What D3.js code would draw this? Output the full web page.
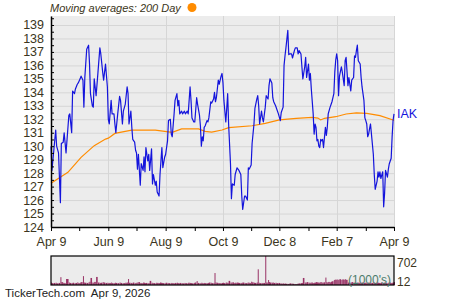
<!DOCTYPE html>
<html>
<head>
<meta charset="utf-8">
<script src="https://cdn.jsdelivr.net/npm/d3@7"></script>
<style>
  body { margin: 0; background: #fff; }
  svg { display: block; font-family: "Liberation Sans", Arial, sans-serif; }
</style>
</head>
<body>
<svg width="450" height="300"></svg>
<script>
// IAK daily closes
var priceDates = [
  "2025-04-09","2025-04-10","2025-04-12","2025-04-14","2025-04-15","2025-04-17","2025-04-19","2025-04-20","2025-04-22","2025-04-23",
  "2025-04-25","2025-04-28","2025-04-29","2025-05-01","2025-05-02","2025-05-04","2025-05-05","2025-05-07","2025-05-08","2025-05-10",
  "2025-05-11","2025-05-13","2025-05-14","2025-05-15","2025-05-17","2025-05-19","2025-05-20","2025-05-21","2025-05-23","2025-05-24",
  "2025-05-25","2025-05-27","2025-05-29","2025-05-31","2025-06-01","2025-06-03","2025-06-04","2025-06-06","2025-06-08","2025-06-09",
  "2025-06-10","2025-06-12","2025-06-13","2025-06-15","2025-06-16","2025-06-17","2025-06-19","2025-06-21","2025-06-22","2025-06-24",
  "2025-06-25","2025-06-27","2025-06-29","2025-06-30","2025-07-01","2025-07-03","2025-07-04","2025-07-05","2025-07-07","2025-07-08",
  "2025-07-09","2025-07-10","2025-07-11","2025-07-13","2025-07-14","2025-07-16","2025-07-17","2025-07-18","2025-07-19","2025-07-21",
  "2025-07-22","2025-07-23","2025-07-25","2025-07-26","2025-07-27","2025-07-29","2025-07-30","2025-07-31","2025-08-02","2025-08-03",
  "2025-08-04","2025-08-05","2025-08-06","2025-08-08","2025-08-09","2025-08-11","2025-08-12","2025-08-14","2025-08-15","2025-08-16",
  "2025-08-18","2025-08-19","2025-08-21","2025-08-22","2025-08-23","2025-08-24","2025-08-26","2025-08-27","2025-08-29","2025-08-30",
  "2025-09-01","2025-09-02","2025-09-04","2025-09-05","2025-09-06","2025-09-08","2025-09-09","2025-09-11","2025-09-12","2025-09-14",
  "2025-09-15","2025-09-16","2025-09-17","2025-09-18","2025-09-19","2025-09-20","2025-09-22","2025-09-23","2025-09-24","2025-09-26",
  "2025-09-27","2025-09-29","2025-09-30","2025-10-01","2025-10-02","2025-10-04","2025-10-05","2025-10-07","2025-10-08","2025-10-09",
  "2025-10-10","2025-10-12","2025-10-13","2025-10-14","2025-10-15","2025-10-17","2025-10-18","2025-10-19","2025-10-21","2025-10-22",
  "2025-10-24","2025-10-25","2025-10-26","2025-10-28","2025-10-29","2025-10-30","2025-11-01","2025-11-02","2025-11-04","2025-11-05",
  "2025-11-06","2025-11-08","2025-11-09","2025-11-11","2025-11-12","2025-11-14","2025-11-15","2025-11-16","2025-11-17","2025-11-19",
  "2025-11-20","2025-11-21","2025-11-23","2025-11-24","2025-11-26","2025-11-27","2025-11-28","2025-11-30","2025-12-01","2025-12-02",
  "2025-12-04","2025-12-05","2025-12-07","2025-12-09","2025-12-10","2025-12-12","2025-12-13","2025-12-14","2025-12-15","2025-12-17",
  "2025-12-18","2025-12-19","2025-12-21","2025-12-22","2025-12-24","2025-12-25","2025-12-27","2025-12-28","2025-12-29","2025-12-31",
  "2026-01-01","2026-01-02","2026-01-04","2026-01-05","2026-01-06","2026-01-08","2026-01-09","2026-01-10","2026-01-11","2026-01-13",
  "2026-01-14","2026-01-15","2026-01-16","2026-01-17","2026-01-18","2026-01-19","2026-01-20","2026-01-21","2026-01-22","2026-01-23",
  "2026-01-24","2026-01-26","2026-01-27","2026-01-28","2026-01-29","2026-01-31","2026-02-01","2026-02-02","2026-02-04","2026-02-05",
  "2026-02-06","2026-02-07","2026-02-08","2026-02-09","2026-02-10","2026-02-12","2026-02-13","2026-02-15","2026-02-16","2026-02-17",
  "2026-02-19","2026-02-20","2026-02-22","2026-02-23","2026-02-25","2026-02-26","2026-02-27","2026-02-28","2026-03-01","2026-03-02",
  "2026-03-04","2026-03-05","2026-03-06","2026-03-08","2026-03-09","2026-03-10","2026-03-11","2026-03-12","2026-03-13","2026-03-14",
  "2026-03-15","2026-03-16","2026-03-18","2026-03-19","2026-03-20","2026-03-22","2026-03-23","2026-03-24","2026-03-25","2026-03-26",
  "2026-03-28","2026-03-29","2026-03-30","2026-03-31","2026-04-02","2026-04-03","2026-04-04","2026-04-06","2026-04-07","2026-04-08",
  "2026-04-09"
];
var priceClose = [
  130.0,128.2,129.7,131.2,130.0,129.5,125.8,130.2,130.3,131.0,
  129.5,132.3,132.4,131.0,134.1,133.9,134.25,134.6,134.7,135.0,
  135.2,134.9,132.9,135.1,137.2,137.5,136.1,133.9,133.0,132.9,
  135.0,133.75,135.5,137.3,136.85,135.5,134.9,136.1,134.4,132.0,
  131.65,133.4,132.4,132.4,131.65,131.0,132.4,133.7,133.4,131.65,
  132.6,133.1,134.4,133.9,131.65,132.6,131.4,130.5,130.3,129.7,
  129.5,128.3,129.4,127.1,128.7,128.2,129.2,128.1,129.9,128.9,
  129.4,128.2,129.8,127.2,127.9,127.1,127.4,126.6,126.3,127.9,
  128.9,129.9,128.4,129.2,129.4,130.4,131.9,132.0,130.9,130.7,
  132.4,133.4,133.9,133.0,133.4,132.4,132.6,132.4,132.6,132.4,
  132.6,132.4,134.4,133.4,132.1,131.8,131.8,133.6,133.1,132.3,
  131.5,130.0,130.7,130.4,131.4,131.5,131.9,131.8,132.1,133.3,
  133.2,133.5,134.0,133.3,133.6,134.9,134.6,135.2,135.4,134.7,
  133.4,131.8,132.8,133.9,131.65,128.7,126.1,127.2,127.1,127.9,
  128.4,128.3,128.2,127.9,126.3,125.3,126.3,126.3,126.0,128.4,
  128.3,128.6,130.2,131.65,132.8,133.5,133.75,133.0,131.65,132.6,
  132.1,131.8,132.9,133.75,133.5,134.5,135.0,134.7,133.6,133.3,
  133.0,132.8,132.4,131.9,132.5,132.9,136.0,136.7,137.3,138.6,
  136.8,136.85,136.85,136.55,137.1,137.3,137.3,136.85,137.1,136.85,
  135.9,135.0,135.9,136.6,135.1,136.1,134.9,135.4,134.25,132.4,
  130.9,131.65,131.4,130.4,130.5,130.0,129.9,130.5,130.4,130.5,
  129.9,131.4,130.8,131.4,132.4,132.9,133.1,133.3,133.9,135.5,
  136.4,136.85,136.35,133.75,135.2,135.9,135.5,134.5,136.35,136.6,
  134.5,135.1,134.1,134.9,135.1,136.7,136.6,137.1,137.5,136.35,
  136.1,135.1,134.4,133.4,132.1,131.9,131.65,130.7,130.9,131.3,
  131.65,130.9,129.4,127.9,126.8,127.4,128.1,127.7,128.1,127.6,
  128.1,125.5,126.5,128.2,127.7,128.3,128.7,129.1,130.7,131.9,
  132.4
];
// volume in 1000's, one per close
var volume = [
  60,45,50,55,40,50,190,70,55,45,
  145,60,50,45,55,40,50,65,45,60,
  70,215,60,55,50,65,80,170,60,55,
  75,195,60,50,55,70,60,50,55,45,
  50,60,45,40,55,50,45,60,50,40,
  45,55,60,145,55,50,40,60,45,50,
  55,60,70,50,45,60,55,45,50,40,
  45,100,55,50,45,40,55,50,45,60,
  55,50,45,40,55,50,45,40,50,45,
  40,50,55,45,40,50,45,40,50,45,
  40,55,50,45,40,50,60,95,50,45,
  40,55,45,40,50,45,40,50,60,55,
  45,50,290,60,55,50,45,40,50,55,
  45,60,55,50,100,60,55,65,50,55,
  60,55,50,45,55,60,50,45,55,60,
  50,80,65,55,50,60,380,55,45,50,
  45,50,702,60,120,70,60,55,60,50,
  55,45,50,40,35,40,30,35,30,25,
  30,40,35,30,25,20,30,35,40,45,
  50,170,60,55,70,60,50,55,60,50,
  55,60,70,65,60,55,65,70,60,55,
  65,180,70,60,75,65,80,90,120,130,
  125,135,120,130,140,125,135,130,140,125,
  60,55,60,70,55,60,50,55,60,55,
  50,55,60,50,55,45,50,60,55,50,
  55,50,60,55,50,60,55,50,45,55,
  50,55,60,45,50,55,60,50,55,60,
  70
];
// 200 day moving average
var maDates = ["2025-04-09","2025-04-27","2025-05-11","2025-05-25","2025-06-06","2025-06-09","2025-06-16","2025-06-27",
  "2025-07-04","2025-07-29","2025-08-08","2025-08-16","2025-08-26","2025-09-13","2025-09-20","2025-09-27","2025-10-08",
  "2025-10-15","2025-11-09","2025-11-23","2025-12-08","2025-12-26","2026-01-12","2026-01-18","2026-01-21","2026-01-25",
  "2026-02-06","2026-02-17","2026-02-28","2026-03-11","2026-03-25","2026-04-08","2026-04-09"];
var maValues = [127.24,128.06,129.17,130.04,130.53,130.6,130.95,131.1,
  131.2,131.2,131.1,131.03,131.28,131.28,131.1,131.05,131.2,
  131.38,131.52,131.7,131.95,132.07,132.14,132.09,131.95,132.07,
  132.19,132.39,132.47,132.44,132.27,131.95,131.9];

var tickDates = ["2025-04-09","2025-05-09","2025-06-09","2025-07-09","2025-08-09","2025-09-09","2025-10-09",
  "2025-11-08","2025-12-08","2026-01-08","2026-02-07","2026-03-10","2026-04-09"];
var tickLabels = ["Apr 9","","Jun 9","","Aug 9","","Oct 9","","Dec 8","","Feb 7","","Apr 9"];
var yTicks = [124,125,126,127,128,129,130,131,132,133,134,135,136,137,138,139];

var parse = d3.timeParse("%Y-%m-%d");
var prices = priceDates.map((d, i) => ({date: parse(d), close: priceClose[i], vol: volume[i]}));
var ma = maDates.map((d, i) => ({date: parse(d), value: maValues[i]}));
var ticks = tickDates.map(parse);

var textColor = "#3b3520";
var svg = d3.select("svg");

var x = d3.scaleTime()
    .domain([parse("2025-04-09"), parse("2026-04-09")])
    .range([51, 394]);
var y = d3.scaleLinear()
    .domain([124, 139.668])
    .range([227, 16]);
var yVol = d3.scaleLinear()
    .domain([0, d3.max(volume)])
    .range([285, 256]);

// plot background
svg.append("rect")
    .attr("x", 51).attr("y", 16)
    .attr("width", 343).attr("height", 211)
    .attr("fill", "#ececec");

// grid
svg.append("g").selectAll("line")
    .data(yTicks)
    .enter().append("line")
    .attr("x1", 51).attr("x2", 394)
    .attr("y1", d => y(d) + 0.5).attr("y2", d => y(d) + 0.5)
    .attr("stroke", "#d6d6d6");
svg.append("g").selectAll("line")
    .data(ticks.filter((d, i) => tickLabels[i] !== ""))
    .enter().append("line")
    .attr("x1", d => Math.round(x(d)) + 0.5).attr("x2", d => Math.round(x(d)) + 0.5)
    .attr("y1", 16).attr("y2", 227)
    .attr("stroke", "#d6d6d6");

// moving average
svg.append("path")
    .datum(ma)
    .attr("fill", "none")
    .attr("stroke", "#ff8c00")
    .attr("stroke-width", 1.2)
    .attr("d", d3.line().x(d => x(d.date)).y(d => y(d.value)));

// price
svg.append("path")
    .datum(prices)
    .attr("fill", "none")
    .attr("stroke", "#1414dc")
    .attr("stroke-width", 1.2)
    .attr("stroke-linejoin", "round")
    .attr("d", d3.line().x(d => x(d.date)).y(d => y(d.close)));

// y axis
var yAxis = svg.append("g")
    .attr("transform", "translate(51,0)")
    .call(d3.axisLeft(y).tickValues(yTicks).tickFormat(d3.format("d")).tickSize(0).tickSizeOuter(0).tickPadding(7));
yAxis.select(".domain").attr("stroke", "#000").attr("stroke-width", 1.5);
yAxis.selectAll("text").attr("fill", textColor).style("font-size", "12.5px");

svg.append("g")
    .attr("transform", "translate(51,0)")
    .call(d3.axisRight(y).tickValues(d3.range(124.5, 139.6, 0.5)).tickSize(3).tickFormat(""))
    .call(g => g.select(".domain").remove())
    .selectAll("line").attr("stroke", "#000");

// x axis
var xAxis = svg.append("g")
    .attr("transform", "translate(0,227)")
    .call(d3.axisBottom(x).tickValues(ticks).tickFormat((d, i) => tickLabels[i]).tickSize(4).tickSizeOuter(0).tickPadding(6));
xAxis.select(".domain").attr("stroke", "#000").attr("stroke-width", 1.5);
xAxis.selectAll("line").attr("stroke", "#000");
xAxis.selectAll("text").attr("fill", textColor).style("font-size", "12.5px");

// title
svg.append("text")
    .attr("x", 50).attr("y", 12)
    .attr("fill", textColor)
    .style("font-size", "11px")
    .style("font-style", "italic")
    .text("Moving averages: 200 Day");
svg.append("circle")
    .attr("cx", 192).attr("cy", 7.5).attr("r", 4.5)
    .attr("fill", "#ff8c00");

// symbol label at the last close
var last = prices[prices.length - 1];
svg.append("text")
    .attr("x", 397).attr("y", y(last.close))
    .attr("dy", "0.35em")
    .attr("fill", "#1414dc")
    .style("font-size", "12.5px")
    .text("IAK");

// volume panel
svg.append("rect")
    .attr("x", 51).attr("y", 256)
    .attr("width", 343).attr("height", 29)
    .attr("fill", "#ececec");
svg.append("g").selectAll("rect")
    .data(prices)
    .enter().append("rect")
    .attr("x", d => x(d.date))
    .attr("y", d => yVol(d.vol))
    .attr("width", (d, i) => i < prices.length - 1 ? Math.max(1, x(prices[i + 1].date) - x(d.date) - 0.3) : 1)
    .attr("height", d => 285 - yVol(d.vol))
    .attr("fill", "#993366");
svg.append("rect")
    .attr("x", 51).attr("y", 256)
    .attr("width", 343).attr("height", 29)
    .attr("fill", "none")
    .attr("stroke", "#000")
    .attr("stroke-width", 1.2);
svg.append("text")
    .attr("x", 391).attr("y", 284)
    .attr("text-anchor", "end")
    .attr("fill", "#4b7b6b")
    .style("font-size", "12px")
    .text("(1000's)");
svg.append("text")
    .attr("x", 397).attr("y", yVol(d3.max(volume)))
    .attr("dy", "0.95em")
    .attr("fill", textColor)
    .style("font-size", "12px")
    .text(d3.max(volume));
svg.append("text")
    .attr("x", 397).attr("y", 286)
    .attr("fill", textColor)
    .style("font-size", "12px")
    .text("12");

// footer
svg.append("text")
    .attr("x", 5).attr("y", 297)
    .attr("fill", "#222")
    .style("font-size", "11.5px")
    .style("white-space", "pre")
    .text("TickerTech.com  Apr 9, 2026");
</script>
</body>
</html>
